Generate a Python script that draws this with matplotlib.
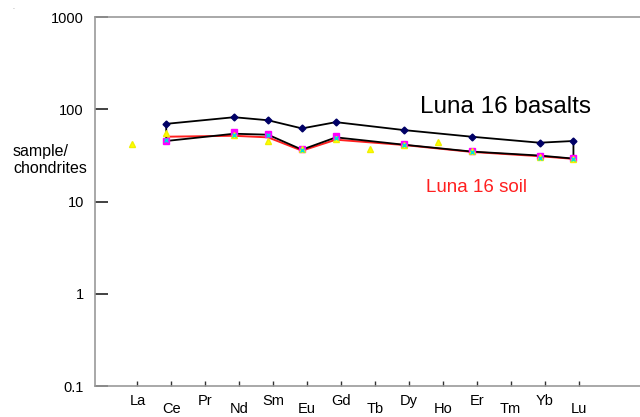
import numpy as np
import matplotlib
matplotlib.use("Agg")
import matplotlib.pyplot as plt

nan = np.nan

elements = ['La', 'Ce', 'Pr', 'Nd', 'Sm', 'Eu', 'Gd', 'Tb', 'Dy', 'Ho', 'Er', 'Tm', 'Yb', 'Lu']

# basalt envelope (upper and lower)
basalt_hi = [nan, 69.5, nan, 82, 76, 62, 72.5, nan, 59.5, nan, 50.4, nan, 43.4, 45.3]
basalt_lo = [nan, 45.3, nan, 54.3, 53, 36.5, 49.6, nan, 41.3, nan, 34.8, nan, 31.5, 29.2]
# soil
soil = [nan, 50.4, nan, 51.6, 49.6, 35.6, 46.8, nan, 41, nan, 34.5, nan, 31, 29]
soil_sq = [nan, 45, nan, 56.6, 53.8, 37.4, 50.8, nan, 41.5, nan, 35, nan, 31, 29.5]
soil_tri = [42.4, 55.6, nan, 52, 45.3, 37, 48, 37.4, 41, 43.8, 35, nan, 30.5, 29]
soil_x = [nan, 47, nan, 53, 52, 36, 48.5, nan, 41, nan, 34.5, nan, 30, 29]

plt.rcParams['font.family'] = ['Liberation Sans', 'DejaVu Sans']

fig = plt.figure(figsize=(6.4, 4.17), dpi=100)
ax = fig.add_axes([0.1484, 0.0743, 0.86, 0.8849])

pos = np.arange(len(elements))
xp = pos - 0.15  # points sit a little left of the ticks


def valid(vals):
    v = np.array(vals, dtype=float)
    m = ~np.isnan(v)
    return xp[m], v[m]


# red soil line
sx, sy = valid(soil)
ax.plot(sx, sy, color='#ff2020', lw=1.4, zorder=2)

# closed basalt envelope
hx, hy = valid(basalt_hi)
lx, ly = valid(basalt_lo)
env_x = np.concatenate([hx, lx[::-1], hx[:1]])
env_y = np.concatenate([hy, ly[::-1], hy[:1]])
ax.plot(env_x, env_y, color='black', lw=1.3, zorder=3)

ax.plot(*valid(soil_sq), ls='none', marker='s', ms=4.5, color='#ff00ff', zorder=4)
ax.plot(*valid(soil_tri), ls='none', marker='^', ms=4.5, color='#ffff00', mec='#f0f000', zorder=5)
ax.plot(*valid(soil_x), ls='none', marker='x', ms=3, mew=1, color='#00e0e0', zorder=5)
ax.plot(hx, hy, ls='none', marker='D', ms=3.5, color='#000066', zorder=6)

ax.set_yscale('log')
ax.set_ylim(0.1, 1000)
ax.set_xlim(-1.25, 14.97)
ax.set_yticks([0.1, 1, 10, 100, 1000])
ax.set_yticklabels(['0.1', '1', '10', '100', '1000'])
ax.yaxis.set_minor_locator(matplotlib.ticker.NullLocator())
ax.tick_params(axis='y', direction='in', length=9, width=1.3, color='#333333',
               labelsize=10.5, pad=8)

ax.set_xticks(pos)
ax.set_xticklabels(elements)
ax.tick_params(axis='x', direction='in', length=3.5, width=1, color='#333333',
               labelsize=10.5, pad=6)
for i, lab in enumerate(ax.get_xticklabels()):
    if i % 2 == 1:
        lab.set_y(-0.022)

for s in ['left', 'bottom', 'top']:
    ax.spines[s].set_color('#999999')
    ax.spines[s].set_linewidth(1.2)
ax.spines['right'].set_visible(False)

fig.text(13 / 640, 1 - 160 / 417, 'sample/\nchondrites', fontsize=11.5,
         ha='left', va='center', linespacing=1.1)
fig.text(420 / 640, 1 - 113 / 417, 'Luna 16 basalts', fontsize=17.5, ha='left', va='baseline')
fig.text(426 / 640, 1 - 192 / 417, 'Luna 16 soil', fontsize=13.5, color='#ff2020',
         ha='left', va='baseline')
fig.text(12 / 640, 1 - 9 / 417, '.', fontsize=5, color='#888888')

fig.savefig('out.png', dpi=100)
